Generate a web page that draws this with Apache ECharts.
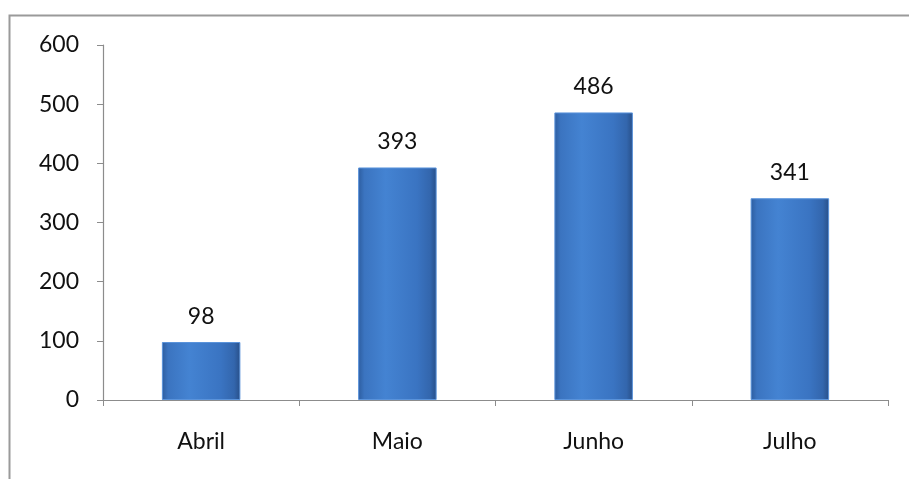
<!DOCTYPE html>
<html><head><meta charset="utf-8">
<script src="https://cdn.jsdelivr.net/npm/echarts@6/dist/echarts.min.js"></script>
<style>html,body{margin:0;padding:0;background:#fff}#c{width:909px;height:479px}</style>
</head><body><div id="c"></div>
<script>
var categories = ["Abril", "Maio", "Junho", "Julho"];
var values = [98, 393, 486, 341];
var yTicks = [0, 100, 200, 300, 400, 500, 600];

var chart = echarts.init(document.getElementById('c'));
var font = 'Lato, "Open Sans", sans-serif';
chart.setOption({
  animation: false,
  graphic: [{
    type: 'rect', shape: {x: 9.5, y: 15.5, width: 1000, height: 600},
    style: {fill: 'none', stroke: '#9a9a9a', lineWidth: 2}, z: -1
  }],
  grid: {left: 103, right: 21, top: 45, bottom: 79},
  xAxis: {
    type: 'category', data: categories,
    axisLine: {lineStyle: {color: '#8c8c8c', width: 1.2}},
    axisTick: {show: true, length: 6, inside: false, alignWithLabel: false, lineStyle: {color: '#8c8c8c'}},
    axisLabel: {margin: 30, fontSize: 23, color: '#111', fontFamily: font}
  },
  yAxis: {
    type: 'value', min: yTicks[0], max: yTicks[yTicks.length - 1], interval: 100,
    axisLine: {show: true, lineStyle: {color: '#8c8c8c', width: 1.2}},
    axisTick: {show: true, length: 6, lineStyle: {color: '#8c8c8c'}},
    splitLine: {show: false},
    axisLabel: {margin: 24, fontSize: 23, color: '#111', fontFamily: font}
  },
  series: [{
    type: 'bar', data: values, barWidth: '40%',
    itemStyle: {
      color: new echarts.graphic.LinearGradient(0, 0, 1, 0, [
        {offset: 0, color: '#2d5d9f'},
        {offset: 0.08, color: '#3b74c0'},
        {offset: 0.35, color: '#4483d2'},
        {offset: 0.75, color: '#3a74c2'},
        {offset: 0.92, color: '#3366ad'},
        {offset: 1, color: '#284f88'}
      ]),
      borderColor: '#5a93db', borderWidth: 1
    },
    label: {show: true, position: 'top', distance: 14, fontSize: 23, color: '#111', fontFamily: font}
  }]
});
</script></body></html>
